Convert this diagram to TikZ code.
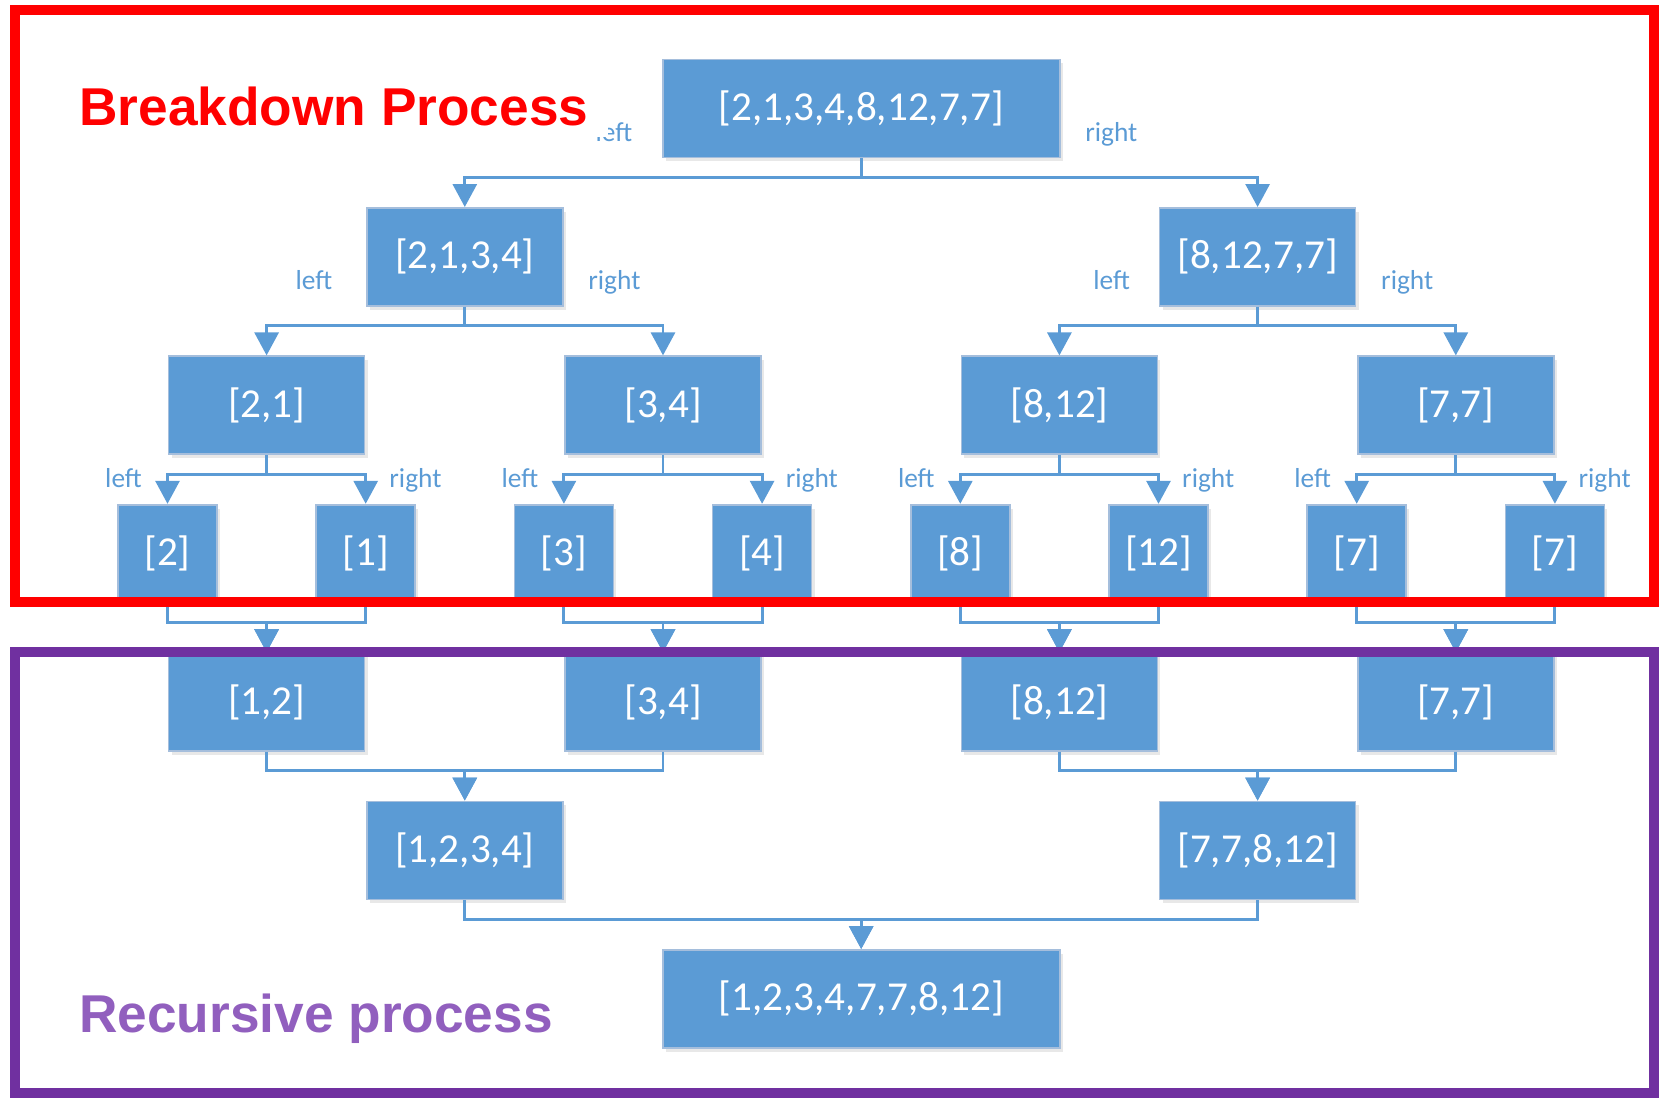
\documentclass[tikz,border=0pt]{standalone}
\usepackage{fontspec}
\setmainfont{Carlito}
\newfontfamily\titlefont{Liberation Sans}
\usepackage{tikz}
\usetikzlibrary{arrows.meta, positioning, calc, shadows}
\definecolor{boxblue}{RGB}{91,155,213}
\definecolor{boxedge}{RGB}{165,190,220}
\definecolor{splitred}{RGB}{255,0,0}
\definecolor{mergepurple}{RGB}{112,48,160}
\definecolor{titlepurple}{RGB}{145,95,190}
\tikzstyle{block} = [rectangle, minimum width=1.96cm, minimum height=0.98cm, inner sep=0pt, text centered, draw=boxedge, line width=0.5pt, fill=boxblue, text=white, font=\fontsize{11.7}{14}\selectfont, drop shadow={shadow xshift=0.03cm, shadow yshift=-0.04cm, opacity=0.15, fill=black!60}]
\tikzstyle{leafblock} = [block, minimum width=0.99cm]
\tikzstyle{wideblock} = [block, minimum width=3.97cm]
\tikzstyle{sidetag} = [inner sep=0pt, text=boxblue, font=\fontsize{7.8}{9}\selectfont]
\tikzstyle{arrow} = [line width=0.85pt, draw=boxblue, -{Triangle[length=0.23cm, width=0.24cm]}]
\tikzstyle{stageframe} = [line width=0.1cm]
\tikzstyle{stagetitle} = [anchor=base west, font=\titlefont\bfseries\fontsize{15.15}{18}\selectfont]

\begin{document}
\begin{tikzpicture}
\useasboundingbox (0,0) rectangle (16.62,-10.98);

% ===== BREAKDOWN LEVELS =====
\node (split_all) [wideblock] at (8.612, -1.085) {[2,1,3,4,8,12,7,7]};

\node (split_l) [block] at (4.648, -2.569) {[2,1,3,4]};
\node (split_r) [block] at (12.576, -2.569) {[8,12,7,7]};

\node (split_ll) [block] at (2.666, -4.053) {[2,1]};
\node (split_lr) [block] at (6.630, -4.053) {[3,4]};
\node (split_rl) [block] at (10.594, -4.053) {[8,12]};
\node (split_rr) [block] at (14.558, -4.053) {[7,7]};

% single elements
\node (leaf_2) [leafblock] at (1.675, -5.537) {[2]};
\node (leaf_1) [leafblock] at (3.657, -5.537) {[1]};
\node (leaf_3) [leafblock] at (5.639, -5.537) {[3]};
\node (leaf_4) [leafblock] at (7.621, -5.537) {[4]};
\node (leaf_8) [leafblock] at (9.603, -5.537) {[8]};
\node (leaf_12) [leafblock] at (11.585, -5.537) {[12]};
\node (leaf_7a) [leafblock] at (13.567, -5.537) {[7]};
\node (leaf_7b) [leafblock] at (15.549, -5.537) {[7]};

% ===== MERGE LEVELS =====
\node (merge_12) [block] at (2.666, -7.021) {[1,2]};
\node (merge_34) [block] at (6.630, -7.021) {[3,4]};
\node (merge_812) [block] at (10.594, -7.021) {[8,12]};
\node (merge_77) [block] at (14.558, -7.021) {[7,7]};

\node (merge_1234) [block] at (4.648, -8.505) {[1,2,3,4]};
\node (merge_7812) [block] at (12.576, -8.505) {[7,7,8,12]};

\node (merge_all) [wideblock] at (8.612, -9.989) {[1,2,3,4,7,7,8,12]};

% ===== LEFT / RIGHT TAGS =====
\node (tag_all_l) [sidetag, anchor=base east] at ($(split_all.west)+(-0.29,-0.33)$) {left};
\node (tag_all_r) [sidetag, anchor=base west] at ($(split_all.east)+(0.24,-0.33)$) {right};
\node (tag_l_l) [sidetag, anchor=base east] at ($(split_l.west)+(-0.33,-0.33)$) {left};
\node (tag_l_r) [sidetag, anchor=base west] at ($(split_l.east)+(0.24,-0.33)$) {right};
\node (tag_r_l) [sidetag, anchor=base east] at ($(split_r.west)+(-0.28,-0.33)$) {left};
\node (tag_r_r) [sidetag, anchor=base west] at ($(split_r.east)+(0.24,-0.33)$) {right};

\node (tag_ll_l) [sidetag, anchor=base east] at ($(leaf_2.north)+(-0.25,0.16)$) {left};
\node (tag_ll_r) [sidetag, anchor=base west] at ($(leaf_1.north)+(0.23,0.16)$) {right};
\node (tag_lr_l) [sidetag, anchor=base east] at ($(leaf_3.north)+(-0.25,0.16)$) {left};
\node (tag_lr_r) [sidetag, anchor=base west] at ($(leaf_4.north)+(0.23,0.16)$) {right};
\node (tag_rl_l) [sidetag, anchor=base east] at ($(leaf_8.north)+(-0.25,0.16)$) {left};
\node (tag_rl_r) [sidetag, anchor=base west] at ($(leaf_12.north)+(0.23,0.16)$) {right};
\node (tag_rr_l) [sidetag, anchor=base east] at ($(leaf_7a.north)+(-0.25,0.16)$) {left};
\node (tag_rr_r) [sidetag, anchor=base west] at ($(leaf_7b.north)+(0.23,0.16)$) {right};

% ===== ARROWS =====
% splitting
\draw [arrow] (split_all.south) -- ++(0,-0.19) -| (split_l.north);
\draw [arrow] (split_all.south) -- ++(0,-0.19) -| (split_r.north);
\draw [arrow] (split_l.south) -- ++(0,-0.19) -| (split_ll.north);
\draw [arrow] (split_l.south) -- ++(0,-0.19) -| (split_lr.north);
\draw [arrow] (split_r.south) -- ++(0,-0.19) -| (split_rl.north);
\draw [arrow] (split_r.south) -- ++(0,-0.19) -| (split_rr.north);
\draw [arrow] (split_ll.south) -- ++(0,-0.19) -| (leaf_2.north);
\draw [arrow] (split_ll.south) -- ++(0,-0.19) -| (leaf_1.north);
\draw [arrow] (split_lr.south) -- ++(0,-0.19) -| (leaf_3.north);
\draw [arrow] (split_lr.south) -- ++(0,-0.19) -| (leaf_4.north);
\draw [arrow] (split_rl.south) -- ++(0,-0.19) -| (leaf_8.north);
\draw [arrow] (split_rl.south) -- ++(0,-0.19) -| (leaf_12.north);
\draw [arrow] (split_rr.south) -- ++(0,-0.19) -| (leaf_7a.north);
\draw [arrow] (split_rr.south) -- ++(0,-0.19) -| (leaf_7b.north);

% merging
\draw [arrow] (leaf_2.south) -- ++(0,-0.19) -| (merge_12.north);
\draw [arrow] (leaf_1.south) -- ++(0,-0.19) -| (merge_12.north);
\draw [arrow] (leaf_3.south) -- ++(0,-0.19) -| (merge_34.north);
\draw [arrow] (leaf_4.south) -- ++(0,-0.19) -| (merge_34.north);
\draw [arrow] (leaf_8.south) -- ++(0,-0.19) -| (merge_812.north);
\draw [arrow] (leaf_12.south) -- ++(0,-0.19) -| (merge_812.north);
\draw [arrow] (leaf_7a.south) -- ++(0,-0.19) -| (merge_77.north);
\draw [arrow] (leaf_7b.south) -- ++(0,-0.19) -| (merge_77.north);
\draw [arrow] (merge_12.south) -- ++(0,-0.19) -| (merge_1234.north);
\draw [arrow] (merge_34.south) -- ++(0,-0.19) -| (merge_1234.north);
\draw [arrow] (merge_812.south) -- ++(0,-0.19) -| (merge_7812.north);
\draw [arrow] (merge_77.south) -- ++(0,-0.19) -| (merge_7812.north);
\draw [arrow] (merge_1234.south) -- ++(0,-0.19) -| (merge_all.north);
\draw [arrow] (merge_7812.south) -- ++(0,-0.19) -| (merge_all.north);

% ===== STAGE FRAMES =====
\draw [stageframe, draw=splitred] (0.145,-0.10) rectangle (16.54,-6.02);
\draw [stageframe, draw=mergepurple] (0.145,-6.52) rectangle (16.54,-10.93);

\node (breakdown_label) [stagetitle, fill=white, inner xsep=0.2cm, inner ysep=0.1cm, text=splitred] at (0.586,-1.26) {Breakdown Process};
\node (recursive_label) [stagetitle, inner sep=0pt, text=titlepurple] at (0.786,-10.33) {Recursive process};

\end{tikzpicture}
\end{document}
